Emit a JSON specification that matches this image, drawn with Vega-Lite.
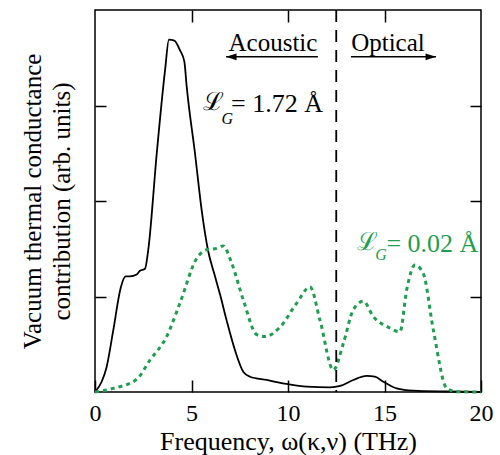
{
  "$schema": "https://vega.github.io/schema/vega-lite/v6.json",
  "width": 386,
  "height": 382,
  "autosize": {"type": "none"},
  "padding": {"left": 95, "top": 10, "right": 19, "bottom": 63},
  "background": "white",
  "config": {
    "view": {"stroke": "#000", "strokeWidth": 1.5},
    "font": "Liberation Serif",
    "axis": {
      "tickColor": "#000",
      "tickWidth": 1.5,
      "labelColor": "#000",
      "titleColor": "#000",
      "titleFontWeight": "normal",
      "labelFont": "Liberation Serif",
      "titleFont": "Liberation Serif",
      "grid": false,
      "domain": false
    }
  },
  "datasets": {
    "curves": [
      {"series": "1.72", "freq": 0, "val": 0},
      {"series": "1.72", "freq": 0.35, "val": 0.11},
      {"series": "1.72", "freq": 0.6, "val": 0.26},
      {"series": "1.72", "freq": 0.95, "val": 0.65},
      {"series": "1.72", "freq": 1.33, "val": 1.09},
      {"series": "1.72", "freq": 1.59, "val": 1.21},
      {"series": "1.72", "freq": 1.81, "val": 1.21},
      {"series": "1.72", "freq": 2.16, "val": 1.23},
      {"series": "1.72", "freq": 2.33, "val": 1.27},
      {"series": "1.72", "freq": 2.59, "val": 1.29},
      {"series": "1.72", "freq": 2.76, "val": 1.49},
      {"series": "1.72", "freq": 3.2, "val": 2.5},
      {"series": "1.72", "freq": 3.63, "val": 3.37},
      {"series": "1.72", "freq": 3.83, "val": 3.69},
      {"series": "1.72", "freq": 4.11, "val": 3.68},
      {"series": "1.72", "freq": 4.4, "val": 3.58},
      {"series": "1.72", "freq": 4.63, "val": 3.46},
      {"series": "1.72", "freq": 4.75, "val": 3.2},
      {"series": "1.72", "freq": 5.18, "val": 2.5},
      {"series": "1.72", "freq": 5.53, "val": 1.9},
      {"series": "1.72", "freq": 5.85, "val": 1.49},
      {"series": "1.72", "freq": 6.22, "val": 1.21},
      {"series": "1.72", "freq": 6.48, "val": 1.02},
      {"series": "1.72", "freq": 6.82, "val": 0.75},
      {"series": "1.72", "freq": 7.25, "val": 0.44},
      {"series": "1.72", "freq": 7.69, "val": 0.21},
      {"series": "1.72", "freq": 8.03, "val": 0.16},
      {"series": "1.72", "freq": 8.9, "val": 0.126},
      {"series": "1.72", "freq": 9.93, "val": 0.084},
      {"series": "1.72", "freq": 10.97, "val": 0.056},
      {"series": "1.72", "freq": 12.18, "val": 0.049},
      {"series": "1.72", "freq": 12.7, "val": 0.063},
      {"series": "1.72", "freq": 13.38, "val": 0.126},
      {"series": "1.72", "freq": 14.08, "val": 0.168},
      {"series": "1.72", "freq": 14.5, "val": 0.16},
      {"series": "1.72", "freq": 14.94, "val": 0.108},
      {"series": "1.72", "freq": 15.63, "val": 0.038},
      {"series": "1.72", "freq": 16.5, "val": 0.014},
      {"series": "1.72", "freq": 18.2, "val": 0.005},
      {"series": "1.72", "freq": 20, "val": 0},
      {"series": "0.02", "freq": 0, "val": 0},
      {"series": "0.02", "freq": 0.95, "val": 0.038},
      {"series": "0.02", "freq": 2.16, "val": 0.133},
      {"series": "0.02", "freq": 2.85, "val": 0.335},
      {"series": "0.02", "freq": 3.71, "val": 0.58},
      {"series": "0.02", "freq": 4.4, "val": 0.93},
      {"series": "0.02", "freq": 5.27, "val": 1.4},
      {"series": "0.02", "freq": 5.79, "val": 1.49},
      {"series": "0.02", "freq": 6.2, "val": 1.5},
      {"series": "0.02", "freq": 6.65, "val": 1.53},
      {"series": "0.02", "freq": 7.08, "val": 1.35},
      {"series": "0.02", "freq": 7.69, "val": 0.96},
      {"series": "0.02", "freq": 8.38, "val": 0.6},
      {"series": "0.02", "freq": 8.81, "val": 0.58},
      {"series": "0.02", "freq": 9.59, "val": 0.68},
      {"series": "0.02", "freq": 10.45, "val": 0.93},
      {"series": "0.02", "freq": 11.14, "val": 1.1},
      {"series": "0.02", "freq": 11.66, "val": 0.75},
      {"series": "0.02", "freq": 12.35, "val": 0.23},
      {"series": "0.02", "freq": 12.87, "val": 0.51},
      {"series": "0.02", "freq": 13.38, "val": 0.86},
      {"series": "0.02", "freq": 13.9, "val": 0.95},
      {"series": "0.02", "freq": 14.42, "val": 0.79},
      {"series": "0.02", "freq": 15.28, "val": 0.67},
      {"series": "0.02", "freq": 15.8, "val": 0.63},
      {"series": "0.02", "freq": 16.15, "val": 1.07},
      {"series": "0.02", "freq": 16.58, "val": 1.33},
      {"series": "0.02", "freq": 17.01, "val": 1.24},
      {"series": "0.02", "freq": 17.53, "val": 0.65},
      {"series": "0.02", "freq": 18.22, "val": 0.04},
      {"series": "0.02", "freq": 18.74, "val": 0.003},
      {"series": "0.02", "freq": 20, "val": 0}
    ],
    "boundary": [{"freq": 12.5}],
    "regions": [
      {"name": "Acoustic", "x": 9.22, "y": 3.57},
      {"name": "Optical", "x": 15.18, "y": 3.57}
    ],
    "arrows": [
      {"dir": "left", "from": 11.55, "to": 6.79, "y": 3.51},
      {"dir": "right", "from": 13.26, "to": 17.67, "y": 3.51}
    ],
    "script": [
      {"series": "1.72", "x": 5.6, "y": 2.95, "text": "ℒ"},
      {"series": "0.02", "x": 13.55, "y": 1.49, "text": "ℒ"}
    ],
    "sub": [
      {"series": "1.72", "x": 6.55, "y": 2.81, "text": "G"},
      {"series": "0.02", "x": 14.52, "y": 1.38, "text": "G"}
    ],
    "value": [
      {"series": "1.72", "x": 7.05, "y": 2.93, "text": "= 1.72 Å"},
      {"series": "0.02", "x": 15.1, "y": 1.47, "text": "= 0.02 Å"}
    ]
  },
  "layer": [
    {
      "data": {"name": "curves"},
      "transform": [{"filter": "datum.series === '1.72'"}],
      "mark": {"type": "line", "color": "#000", "strokeWidth": 1.8, "interpolate": "monotone"},
      "encoding": {
        "x": {
          "field": "freq", "type": "quantitative",
          "scale": {"domain": [0, 20], "nice": false},
          "axis": {
            "orient": "bottom", "values": [0, 5, 10, 15, 20], "tickSize": -12,
            "labelPadding": 21, "labelFontSize": 24, "labelFlush": false,
            "title": "Frequency, ω(κ,ν) (THz)", "titleFontSize": 26, "titlePadding": 3
          }
        },
        "y": {
          "field": "val", "type": "quantitative",
          "scale": {"domain": [0, 4], "nice": false},
          "axis": {
            "orient": "left", "values": [1, 2, 3], "tickSize": -11, "labels": false,
            "title": ["Vacuum thermal conductance", "contribution (arb. units)"],
            "titleFontSize": 25, "titlePadding": 20, "titleLineHeight": 29
          }
        }
      }
    },
    {
      "data": {"name": "curves"},
      "transform": [{"filter": "datum.series === '0.02'"}],
      "mark": {"type": "line", "color": "#1f9e4d", "strokeWidth": 3, "strokeDash": [4, 4], "interpolate": "monotone"},
      "encoding": {
        "x": {
          "field": "freq", "type": "quantitative",
          "axis": {"orient": "top", "values": [5, 10, 15], "tickSize": -12, "labels": false, "title": null}
        },
        "y": {
          "field": "val", "type": "quantitative",
          "axis": {"orient": "right", "values": [1, 2, 3], "tickSize": -11, "labels": false, "title": null}
        }
      }
    },
    {
      "data": {"name": "boundary"},
      "mark": {"type": "rule", "color": "#000", "strokeWidth": 1.8, "strokeDash": [12, 8]},
      "encoding": {
        "x": {"field": "freq", "type": "quantitative", "axis": null}
      }
    },
    {
      "data": {"name": "regions"},
      "mark": {"type": "text", "fontSize": 25, "font": "Liberation Serif", "align": "center", "baseline": "alphabetic", "color": "#000"},
      "encoding": {
        "x": {"field": "x", "type": "quantitative", "axis": null},
        "y": {"field": "y", "type": "quantitative", "axis": null},
        "text": {"field": "name"}
      }
    },
    {
      "data": {"name": "arrows"},
      "mark": {"type": "rule", "color": "#000", "strokeWidth": 1.6},
      "encoding": {
        "x": {"field": "from", "type": "quantitative", "axis": null},
        "x2": {"field": "to"},
        "y": {"field": "y", "type": "quantitative", "axis": null}
      }
    },
    {
      "data": {"name": "arrows"},
      "mark": {"type": "point", "filled": true, "color": "#000", "size": 110, "opacity": 1},
      "encoding": {
        "x": {"field": "to", "type": "quantitative", "axis": null},
        "y": {"field": "y", "type": "quantitative", "axis": null},
        "shape": {
          "field": "dir", "type": "nominal",
          "scale": {"domain": ["left", "right"], "range": ["M 0 0 L 2 -0.65 L 2 0.65 Z", "M 0 0 L -2 -0.65 L -2 0.65 Z"]},
          "legend": null
        }
      }
    },
    {
      "data": {"name": "script"},
      "mark": {"type": "text", "fontSize": 25, "font": "DejaVu Serif", "align": "left", "baseline": "alphabetic"},
      "encoding": {
        "x": {"field": "x", "type": "quantitative", "axis": null},
        "y": {"field": "y", "type": "quantitative", "axis": null},
        "text": {"field": "text"},
        "color": {"field": "series", "type": "nominal", "scale": {"domain": ["1.72", "0.02"], "range": ["#000000", "#1f9e4d"]}, "legend": null}
      }
    },
    {
      "data": {"name": "sub"},
      "mark": {"type": "text", "fontSize": 16, "font": "Liberation Serif", "fontStyle": "italic", "align": "left", "baseline": "alphabetic"},
      "encoding": {
        "x": {"field": "x", "type": "quantitative", "axis": null},
        "y": {"field": "y", "type": "quantitative", "axis": null},
        "text": {"field": "text"},
        "color": {"field": "series", "type": "nominal", "legend": null}
      }
    },
    {
      "data": {"name": "value"},
      "mark": {"type": "text", "fontSize": 26, "font": "Liberation Serif", "align": "left", "baseline": "alphabetic"},
      "encoding": {
        "x": {"field": "x", "type": "quantitative", "axis": null},
        "y": {"field": "y", "type": "quantitative", "axis": null},
        "text": {"field": "text"},
        "color": {"field": "series", "type": "nominal", "legend": null}
      }
    }
  ],
  "resolve": {"axis": {"x": "independent", "y": "independent"}}
}
